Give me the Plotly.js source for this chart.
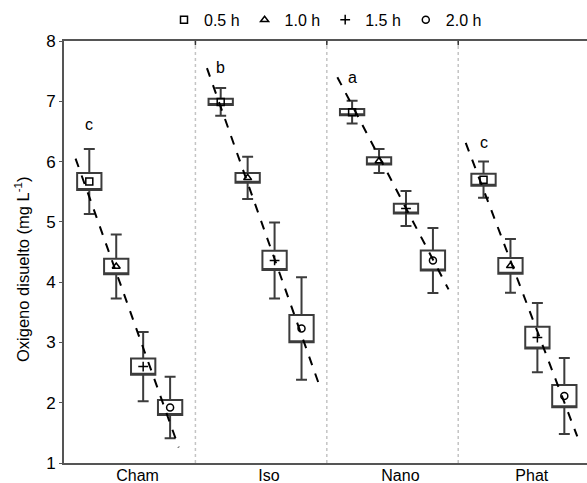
<!DOCTYPE html>
<html><head><meta charset="utf-8">
<script src="https://cdn.plot.ly/plotly-3.0.1.min.js"></script>
<style>html,body{margin:0;padding:0;background:#fff}</style>
</head><body><div id="chart" style="width:587px;height:483px"></div>
<script>
// ---- data ----
const categories = ['Cham', 'Iso', 'Nano', 'Phat'];
const times = [0.5, 1.0, 1.5, 2.0];
const timeLabels = ['0.5 h', '1.0 h', '1.5 h', '2.0 h'];
const symbols = ['square-open', 'triangle-up-open', 'cross-thin-open', 'circle-open'];
const yTitle = 'Oxigeno disuelto (mg L<sup>-1</sup>)';

// mean oxygen per treatment (0.5, 1.0, 1.5, 2.0 h)
const meanCham = [5.67, 4.26, 2.60, 1.92];
const meanIso  = [6.99, 5.73, 4.36, 3.23];
const meanNano = [6.82, 6.01, 5.22, 4.36];
const meanPhat = [5.70, 4.27, 3.08, 2.11];
// box half-height (± SE)
const seCham = [0.14, 0.13, 0.135, 0.125];
const seIso  = [0.05, 0.08, 0.16, 0.225];
const seNano = [0.05, 0.06, 0.08, 0.165];
const sePhat = [0.10, 0.13, 0.18, 0.185];
// whisker half-length (± SD)
const sdCham = [0.54, 0.53, 0.575, 0.51];
const sdIso  = [0.23, 0.35, 0.63, 0.85];
const sdNano = [0.19, 0.20, 0.29, 0.54];
const sdPhat = [0.30, 0.445, 0.575, 0.63];
// regression line ends (time, value)
const lineT0 = [0.245, 0.245, 0.226, 0.17];
const lineT1 = [2.16, 2.31, 2.29, 2.24];
const lineY0 = [6.05, 7.55, 7.40, 6.31];
const lineY1 = [1.26, 2.34, 3.88, 1.44];
// significance letters
const letters = ['c', 'b', 'a', 'c'];
const letterY = [6.62, 7.56, 7.40, 6.32];

// ---- layout helpers ----
const meanRows = [meanCham, meanIso, meanNano, meanPhat];
const seRows = [seCham, seIso, seNano, sePhat];
const sdRows = [sdCham, sdIso, sdNano, sdPhat];
const SPACING = 0.41;          // category units per hour
const TCENTER = 1.25;
const LABEL_SHIFT = 0.06;
const xpos = (i, t) => i + (t - TCENTER) * SPACING;
const FONT = 'Liberation Sans, Arial, sans-serif';
const DARK = '#3c3c3c';

const traces = [];
// boxes
times.forEach((t, j) => {
  const m = meanRows.map(r => r[j]);
  const se = seRows.map(r => r[j]);
  const sd = sdRows.map(r => r[j]);
  traces.push({
    type: 'box',
    x: categories.map((c, i) => xpos(i, t)),
    q1: m.map((v, k) => v - se[k]),
    median: m.map((v, k) => v - se[k]),
    q3: m.map((v, k) => v + se[k]),
    lowerfence: m.map((v, k) => v - sd[k]),
    upperfence: m.map((v, k) => v + sd[k]),
    width: 0.185,
    whiskerwidth: 0.45,
    fillcolor: '#ffffff',
    line: {color: DARK, width: 2},
    showlegend: false,
    hoverinfo: 'skip'
  });
});
// regression lines
categories.forEach((c, i) => {
  traces.push({
    type: 'scatter', mode: 'lines',
    x: [xpos(i, lineT0[i]), xpos(i, lineT1[i])],
    y: [lineY0[i], lineY1[i]],
    line: {color: '#000', width: 2, dash: 'dash'},
    showlegend: false, hoverinfo: 'skip'
  });
});
// mean markers
times.forEach((t, j) => {
  traces.push({
    type: 'scatter', mode: 'markers',
    name: timeLabels[j],
    x: categories.map((c, i) => xpos(i, t)),
    y: meanRows.map(r => r[j]),
    marker: {symbol: symbols[j], size: 7, color: '#000', line: {color: '#000', width: 1.5}}
  });
});

const annotations = categories.map((c, i) => ({
  x: xpos(i, 0.5), y: letterY[i], xref: 'x', yref: 'y',
  text: letters[i], showarrow: false,
  font: {family: FONT, size: 16, color: '#000'}, yanchor: 'middle', xanchor: 'center'
}));
annotations.push({
  xref: 'paper', yref: 'paper', x: -42 / 523, y: (463 - 270) / 422,
  xanchor: 'center', yanchor: 'middle', textangle: -90, showarrow: false,
  text: yTitle, font: {family: FONT, size: 16.5, color: '#000'}
});

const shapes = [];
[0.5, 1.5, 2.5].forEach(v => {
  shapes.push({
    type: 'line', xref: 'x', yref: 'paper', x0: v, x1: v, y0: 0, y1: 1,
    line: {color: '#c4c4c4', width: 1.5, dash: 'dot'}, layer: 'below'
  });
  shapes.push({
    type: 'line', xref: 'x', yref: 'paper', x0: v, x1: v, y0: 0.99, y1: 1,
    line: {color: '#333', width: 1.5}
  });
});

const layout = {
  width: 587, height: 483,
  margin: {l: 64, r: 0, t: 41, b: 20},
  paper_bgcolor: '#fff', plot_bgcolor: '#fff',
  font: {family: FONT, size: 16, color: '#000'},
  showlegend: true,
  legend: {orientation: 'h', x: 0.5, xanchor: 'center', y: 1.01, yanchor: 'bottom',
           bgcolor: 'rgba(0,0,0,0)', font: {family: FONT, size: 16, color: '#000'}, itemwidth: 30},
  xaxis: {
    range: [-0.5, 3.48], tickmode: 'array',
    tickvals: categories.map((c, i) => i + LABEL_SHIFT), ticktext: categories,
    showgrid: false, zeroline: false, showline: true, linecolor: '#555', linewidth: 2,
    mirror: true, ticks: '', ticklabelstandoff: -3,
    tickfont: {family: FONT, size: 16, color: '#000'}, automargin: false
  },
  yaxis: {
    range: [1, 8], tickvals: [1, 2, 3, 4, 5, 6, 7, 8],
    showgrid: false, zeroline: false, showline: true, linecolor: '#555', linewidth: 2,
    ticks: 'outside', ticklen: 3, tickcolor: '#555', tickfont: {family: FONT, size: 17, color: '#000'},
    automargin: false
  },
  annotations: annotations,
  shapes: shapes
};

Plotly.newPlot('chart', traces, layout, {displayModeBar: false, staticPlot: true});
</script>
</body></html>
